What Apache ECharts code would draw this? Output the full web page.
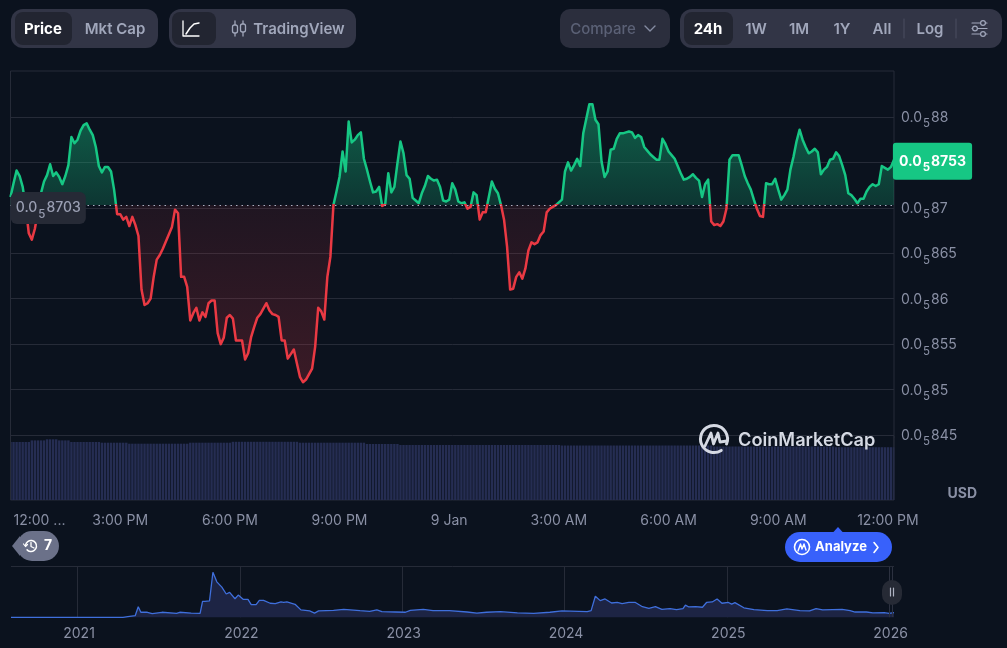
<!DOCTYPE html>
<html><head><meta charset="utf-8">
<style>html,body{margin:0;padding:0;background:#0b121e}#c{width:1007px;height:648px}</style>
<script src="https://cdn.jsdelivr.net/npm/echarts@6/dist/echarts.min.js"></script>
</head><body><div id="c"></div>
<script>
// price in units of 0.0_5 (1e-9 USD), one sample per 5 minutes
const prices = [
8712,8727,8741,8735,8723,8701,8672,8665,8677,8696,
8716,8729,8736,8748,8735,8739,8734,8726,8735,8747,
8778,8771,8775,8785,8791,8793,8786,8780,8767,8746,
8739,8745,8745,8740,8720,8693,8693,8687,8690,8680,
8690,8681,8669,8610,8593,8595,8600,8624,8643,8648,
8655,8663,8671,8679,8698,8694,8624,8624,8613,8576,
8584,8590,8576,8585,8580,8595,8598,8598,8562,8550,
8557,8579,8582,8578,8554,8554,8554,8533,8540,8558,
8569,8579,8583,8589,8595,8587,8583,8582,8580,8554,
8554,8534,8539,8544,8529,8514,8508,8511,8517,8523,
8547,8590,8586,8577,8624,8646,8703,8718,8734,8762,
8740,8795,8772,8775,8780,8783,8754,8742,8729,8717,
8718,8723,8702,8704,8738,8717,8723,8749,8773,8760,
8736,8732,8711,8708,8705,8716,8724,8735,8732,8730,
8731,8723,8708,8707,8709,8727,8720,8707,8705,8706,
8699,8701,8717,8714,8687,8695,8695,8712,8729,8721,
8716,8703,8687,8657,8610,8611,8624,8629,8622,8633,
8653,8662,8660,8662,8670,8674,8695,8699,8701,8703,
8706,8709,8740,8750,8741,8747,8754,8746,8782,8798,
8814,8814,8797,8792,8751,8734,8740,8764,8765,8776,
8782,8782,8783,8784,8783,8777,8780,8778,8767,8763,
8759,8756,8753,8753,8776,8770,8762,8758,8754,8746,
8738,8731,8732,8734,8737,8733,8730,8712,8726,8731,
8685,8681,8682,8680,8685,8699,8753,8758,8758,8758,
8747,8735,8727,8720,8709,8699,8691,8690,8727,8726,
8726,8732,8720,8709,8714,8720,8742,8756,8773,8786,
8775,8767,8760,8762,8765,8761,8737,8742,8745,8753,
8754,8761,8757,8747,8736,8716,8714,8710,8705,8710,
8710,8718,8723,8726,8724,8726,8746,8744,8742,8745,
8753];
// relative volume per sample
const volumes = [
58,58,58,58,58,58,58,59.6,59.6,59.6,59.6,59.6,60.7,60.7,60.7,60.7,59.6,59.6,59.6,59.6,
58,58,58,58,58,58,58,58,58,58,57.3,57.3,57.3,57.3,57.3,57.3,57.3,57.3,57.3,56.3,
56.3,56.3,56.3,56.3,56.3,56.3,56.3,56.3,56.3,56.3,56.3,56.3,56.3,56.3,56.3,56.3,56.3,56.3,56.3,57.3,
57.3,57.3,57.3,57.3,57.3,57.3,57.3,57.3,57.3,57.3,57.3,57.3,57.3,58.2,58.2,58.2,58.2,58.2,58.2,58.2,
58.2,58.2,58.2,58.2,58.2,58.2,58.2,58.2,58.2,58.2,58.2,58.2,58.2,58.2,58.2,57.3,57.3,57.3,57.3,57.3,
57.3,57.3,57.3,57.3,57.3,57.3,57.3,57.3,57.3,57.3,57.3,57.3,57.3,57.3,57.3,57.3,57.3,56,56,56,
56,56,56,56,56,56,56,56,55,55,55,55,55,55,55,55,55,55,55,55,
55,55,55,55,55,55,55,55,55,55,55,55,55,55,55,55,55,55,55,55,
55,55,55,55,55,55,55,55,55,55,55,55,55,55,55,55,55,55,55,55,
55,54.5,54.5,54.5,54.5,54.5,54.5,54.5,54.5,54.5,54.5,54.5,54.5,54.5,54.5,54.5,54.5,54.5,54.5,54.5,
54.5,54.5,54.5,54.5,54.5,54.5,54.5,54.5,54.5,54.5,54.5,54.5,54.5,54.5,54.5,54.5,54.5,54.5,54.5,54.5,
54.5,54.5,54.5,54.5,54.5,54.5,54.5,54.5,54.5,54.5,54.5,53.5,53.5,53.5,53.5,53.5,53.5,53.5,53.5,53.5,
53.5,53.5,53.5,53.5,53.5,53.5,53.5,53.5,53.5,53.5,53.5,53.5,53.5,53.5,53.5,53.5,53.5,53.5,53.5,53.5,
53.5,53.5,53.5,53.5,53.5,53.5,53.5,53.5,53.5,53.5,53.5,52.8,52.8,52.8,52.8,52.8,52.8,52.8,52.8,52.8,
52.8,52.8,52.8,52.8,52.8,52.8,52.8,52.8,52.8,52.8,52.8];
const basePrice = 8703;
const lastPrice = 8753;
const priceTicks = [8800,8750,8700,8650,8600,8550,8500,8450];
const timeTickMinutes = [0,180,360,540,720,900,1080,1260,1440];
const timeTickLabels = ['12:00 ...','3:00 PM','6:00 PM','9:00 PM','9 Jan','3:00 AM','6:00 AM','9:00 AM','12:00 PM'];
const stepMinutes = 5;
// all-time history: date as decimal year, price in 1e-6 USD
const histYears = [2020.59,2021,2021.28,2021.31,2021.355,2021.374,2021.39,2021.43,2021.46,2021.52,2021.61,2021.63,2021.70,2021.755,2021.77,2021.785,2021.813,2021.834,2021.858,2021.889,2021.916,2021.937,2021.97,2021.99,2022.02,2022.05,2022.07,2022.10,2022.12,2022.146,2022.187,2022.218,2022.253,2022.27,2022.29,2022.34,2022.376,2022.43,2022.46,2022.485,2022.577,2022.64,2022.74,2022.80,2022.844,2022.875,2022.957,2023.02,2023.05,2023.13,2023.19,2023.29,2023.40,2023.46,2023.52,2023.606,2023.71,2023.81,2023.91,2023.985,2024.14,2024.164,2024.19,2024.22,2024.25,2024.29,2024.325,2024.355,2024.396,2024.437,2024.48,2024.52,2024.56,2024.60,2024.65,2024.69,2024.73,2024.745,2024.766,2024.807,2024.85,2024.875,2024.91,2024.94,2024.97,2025.01,2025.03,2025.05,2025.105,2025.167,2025.25,2025.31,2025.37,2025.45,2025.51,2025.55,2025.59,2025.71,2025.76,2025.79,2025.86,2025.90,2025.97,2026.0,2026.03];
const histPrices = [0,0,0,1.3,3,20,9.5,9.5,7,9.5,7.6,9.5,8,7.6,30,30,31,85,67,57,44,47,35,42,34,34,24,24,32,32,26.5,26,29,28,29,24.6,14,12,8,12,13.2,15,12.6,11.3,13.9,10.7,10,9.5,13.2,15,12.6,12.6,10,8,9.5,10.7,8.2,7.6,9.5,12,10.7,12.6,39.7,31.5,34.6,27,28,25.8,28,28,20,17,20,15,16.4,14.5,16.4,23,19.5,20,19,28,29,34.6,26.5,28,25,27.7,18,14.5,12.6,12.6,15.8,12.6,12,16.4,13.9,15,12.6,10,10,8.2,8.8,7.6,8.8];
const yearTicks = [2021,2022,2023,2024,2025,2026];

const FONT = 'Inter, "Noto Sans", sans-serif';
const BG = '#0b121e', GRID = '#262b38', AXIS_TXT = '#8a90a5', PILL = '#323546', ACTIVE = '#222531', MUTED = '#a1a7bb';
const GREEN = '#16c784', RED = '#ea3943';

const subRich = (color, size, weight) => ({
  n:{fontFamily:FONT,fontSize:size,color,fontWeight:weight,lineHeight:18},
  s:{fontFamily:FONT,fontSize:11.5,color,fontWeight:weight,lineHeight:18,verticalAlign:'middle',padding:[12,1,0,1]}
});
const priceLabel = v => {
  const d = String(v).replace(/0+$/,'');
  return '{n|0.0}{s|5}{n|'+d+'}';
};

const hiP = Math.max(...prices), loP = Math.min(...prices);
const splitAt = (hiP-basePrice)/(hiP-loP);

/* ---------- toolbar + decorations ---------- */
const g = [];
const rect=(x,y,w,h,r,fill,o)=>g.push(Object.assign({type:'rect',silent:true,z:20,shape:{x,y,width:w,height:h,r},style:{fill}},o||{}));
const txt=(x,y,text,fill,weight,size,align)=>g.push({type:'text',silent:true,z:21,style:{x,y,text,fill,font:(weight||600)+' '+(size||15)+'px '+FONT,textAlign:align||'center',textVerticalAlign:'middle',verticalAlign:'middle'}});
const pl=(pts,stroke,w)=>g.push({type:'polyline',silent:true,z:21,shape:{points:pts},style:{stroke,fill:null,lineWidth:w||1.5,lineCap:'round',lineJoin:'round'}});
const circ=(cx,cy,r,stroke,w,fill)=>g.push({type:'circle',silent:true,z:21,shape:{cx,cy,r},style:{stroke,lineWidth:w||1.5,fill:fill||null}});
const arc=(cx,cy,r,a0,a1,stroke,w)=>g.push({type:'arc',silent:true,z:21,shape:{cx,cy,r,startAngle:a0,endAngle:a1,clockwise:true},style:{stroke,lineWidth:w,fill:null,lineCap:'round'}});

// keep the edge volume bars inside the plot frame
rect(0,438,10,63,0,BG,{z:10});
rect(894.5,438,3,63,0,BG,{z:10});
g.push({type:'line',silent:true,z:11,shape:{x1:10.5,y1:436,x2:10.5,y2:500},style:{stroke:GRID,lineWidth:1}});
g.push({type:'line',silent:true,z:11,shape:{x1:894,y1:436,x2:894,y2:500},style:{stroke:GRID,lineWidth:1}});

rect(11,9,147,39,12,PILL); rect(15,12,57,33,8,ACTIVE);
txt(43,29,'Price','#ffffff',700); txt(115,29,'Mkt Cap',MUTED);
rect(169,9,187,39,12,PILL); rect(172,12,44,33,8,ACTIVE);
pl([[183,21],[183,36],[199,36]],'#ffffff',1.3); pl([[186,34],[190,28],[194,24],[199,23]],'#ffffff',1.5);
pl([[235,21],[235,36]],MUTED,1.3); rect(232.5,25,5,8,2,PILL,{style:{fill:PILL,stroke:MUTED,lineWidth:1.3},z:22});
pl([[243,21],[243,36]],MUTED,1.3); rect(240.5,24,5,8,2,PILL,{style:{fill:PILL,stroke:MUTED,lineWidth:1.3},z:22});
txt(299,29,'TradingView',MUTED);
rect(560,9,110,39,10,'#2b2e3d'); txt(603,29,'Compare','#5b6176',500);
pl([[645,26],[650,31],[655,26]],'#858ca2',1.4);
rect(680,9,322,39,12,PILL); rect(684,12,49,33,8,ACTIVE);
txt(708,29,'24h','#ffffff',700); txt(756,29,'1W',MUTED); txt(799,29,'1M',MUTED); txt(842,29,'1Y',MUTED); txt(882,29,'All',MUTED);
pl([[904,19],[904,38]],'#4a4e60',1); txt(930,29,'Log',MUTED); pl([[956,19],[956,38]],'#4a4e60',1);
[[23,983],[28.5,975],[34,983]].forEach(([y,cx])=>{ pl([[972,y],[cx-2.5,y]],MUTED,1.2); pl([[cx+2.5,y],[987,y]],MUTED,1.2); circ(cx,y,2.4,MUTED,1.2); });

// watermark
arc(714,439,13.5,Math.PI*0.32,Math.PI*0.12,'#d5d9e3',3);
pl([[705,446],[711,433],[713.5,444],[718,433],[720,442],[727,441]],'#d5d9e3',2.8);
txt(738,441,'CoinMarketCap','#d5d9e3',600,18.2,'left');

txt(977,494,'USD',AXIS_TXT,700,14,'right');

// history badge
g.push({type:'polygon',silent:true,z:20,shape:{points:[[12,546],[20,536],[20,556]]},style:{fill:'#6b7189'}});
rect(17,531,42,30,15,'#6b7189');
arc(31,546,5.5,-Math.PI*0.95,Math.PI*0.75,'#ffffff',1.5);
pl([[31,542.5],[31,546.5],[34,548]],'#ffffff',1.3); pl([[23.5,544],[25.5,546.5],[27.5,544.5]],'#ffffff',1.2);
txt(48,546,'7','#ffffff',700,14);

// analyze button
g.push({type:'polygon',silent:true,z:20,shape:{points:[[833,532.5],[838,527],[843,532.5]]},style:{fill:'#3861fb'}});
rect(785,532,107,30,15,'#3861fb');
circ(802,547,7.5,'#ffffff',1.6,null);
pl([[798,551],[800.5,544],[802,549],[804,544],[806,550]],'#ffffff',1.4);
txt(841,547,'Analyze','#ffffff',700,13);
pl([[874,542.5],[878,547.5],[874,552.5]],'#ffffff',1.6);

// navigator
g.push({type:'line',silent:true,z:3,shape:{x1:11,y1:566.5,x2:894,y2:566.5},style:{stroke:GRID,lineWidth:1}});
g.push({type:'line',silent:true,z:3,shape:{x1:889.5,y1:567,x2:889.5,y2:617},style:{stroke:'#2c3140',lineWidth:1}});
g.push({type:'line',silent:true,z:3,shape:{x1:892.5,y1:567,x2:892.5,y2:617},style:{stroke:'#2c3140',lineWidth:1}});
rect(882,580,20,25,10,'#262a35');
pl([[890.5,588],[890.5,596]],'#aeb3c2',1.2); pl([[893.5,588],[893.5,596]],'#aeb3c2',1.2);

/* ---------- chart ---------- */
const chart = echarts.init(document.getElementById('c'),null,{renderer:'canvas'});
const priceData = prices.map((v,i)=>[i*stepMinutes,v]);
const lastMinute = (prices.length-1)*stepMinutes;
chart.setOption({
  animation:false,
  backgroundColor:BG,
  textStyle:{fontFamily:FONT},
  graphic:{elements:g},
  grid:[
    {left:10.5,top:71,width:883.5,height:429,show:true,borderColor:GRID,borderWidth:1,backgroundColor:'transparent'},
    {left:11,top:567,width:883,height:50.3,show:false}
  ],
  xAxis:[
    {type:'value',gridIndex:0,min:0,max:lastMinute,splitLine:{show:false},axisLine:{show:false},
     axisTick:{show:false,customValues:timeTickMinutes},
     axisLabel:{customValues:timeTickMinutes,color:AXIS_TXT,fontSize:14,fontFamily:FONT,margin:14,alignMinLabel:'left',
       rich:{f:{color:AXIS_TXT,fontSize:14,fontFamily:FONT,padding:[0,0,0,3]}},
       formatter:v=>v===0?'{f|'+timeTickLabels[0]+'}':(timeTickLabels[timeTickMinutes.indexOf(v)]||'')}},
    {type:'value',gridIndex:1,min:histYears[0],max:histYears[histYears.length-1],
     axisLine:{show:false},axisTick:{show:false,customValues:yearTicks},
     splitLine:{show:true,lineStyle:{color:GRID,width:1}},
     axisLabel:{customValues:yearTicks,color:AXIS_TXT,fontSize:14,fontFamily:FONT,margin:9,padding:[0,0,0,3],formatter:v=>String(v)}}
  ],
  yAxis:[
    {type:'value',gridIndex:0,position:'right',min:8378.4,max:8850.6,
     axisLine:{show:false},axisTick:{show:false,customValues:priceTicks},
     splitLine:{show:true,lineStyle:{color:GRID,width:1}},
     axisLabel:{customValues:priceTicks,margin:7,padding:[2,0,0,0],formatter:priceLabel,rich:subRich(AXIS_TXT,14,400)}},
    {type:'value',gridIndex:0,min:0,max:429,show:false,splitLine:{show:false}},
    {type:'value',gridIndex:1,min:0,max:95,show:false,splitLine:{show:false}}
  ],
  series:[
    {name:'Volume',type:'bar',xAxisIndex:0,yAxisIndex:1,barWidth:2.4,z:1,silent:true,
     data:volumes.map((v,i)=>[i*stepMinutes,v]),itemStyle:{color:'#252d52'}},
    {name:'Price',type:'line',xAxisIndex:0,yAxisIndex:0,z:3,symbol:'none',showSymbol:false,smooth:false,silent:true,
     data:priceData,
     lineStyle:{width:2.5,join:'round',color:{type:'linear',x:0,y:0,x2:0,y2:1,colorStops:[
       {offset:0,color:GREEN},{offset:splitAt,color:GREEN},{offset:splitAt,color:RED},{offset:1,color:RED}]}},
     areaStyle:{origin:basePrice,opacity:1,color:{type:'linear',x:0,y:0,x2:0,y2:1,colorStops:[
       {offset:0,color:'rgba(22,199,132,0.44)'},
       {offset:splitAt,color:'rgba(22,199,132,0.20)'},
       {offset:splitAt,color:'rgba(234,57,67,0.09)'},
       {offset:1,color:'rgba(234,57,67,0.21)'}]}},
     markLine:{silent:true,symbol:'none',animation:false,precision:0,label:{show:false},
       lineStyle:{color:'#aab0c2',type:[1.5,4],width:1.2},data:[{yAxis:basePrice}]},
     markPoint:{silent:true,animation:false,symbol:'rect',symbolSize:0,
       data:[
        {coord:[62,basePrice],value:basePrice,label:{show:true,position:'inside',offset:[0,3],formatter:priceLabel(basePrice),
          backgroundColor:'#262a36',borderRadius:6,padding:[7,5,7,5],rich:subRich('#9a9fb3',14,500)}},
        {coord:[lastMinute,lastPrice],value:lastPrice,label:{show:true,position:'inside',offset:[38.5,1.5],formatter:priceLabel(lastPrice),
          backgroundColor:GREEN,borderRadius:3,padding:[10,6,9,6],rich:subRich('#ffffff',14,700)}}
       ]}},
    {name:'History',type:'line',xAxisIndex:1,yAxisIndex:2,symbol:'none',showSymbol:false,silent:true,z:2,
     data:histYears.map((y,i)=>[y,histPrices[i]]),
     lineStyle:{color:'#3f6fdc',width:1.3},areaStyle:{color:'#1d2444',opacity:1}}
  ]
});
</script></body></html>
